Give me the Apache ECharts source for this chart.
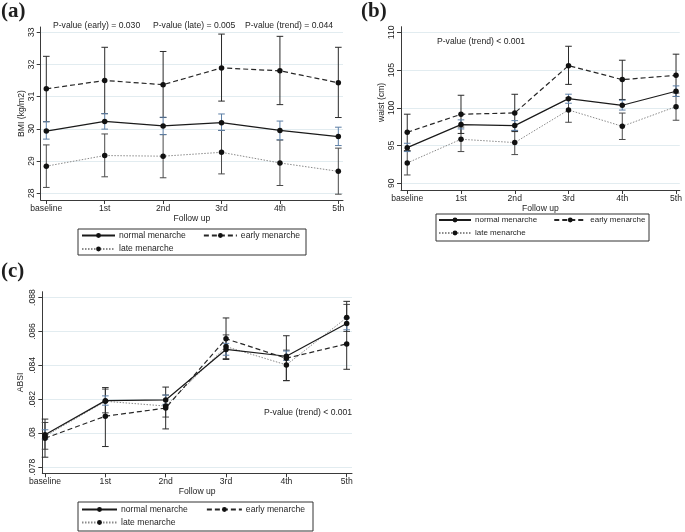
<!DOCTYPE html>
<html><head><meta charset="utf-8">
<script src="https://cdn.jsdelivr.net/npm/echarts@6/dist/echarts.min.js"></script>
<style>html,body{margin:0;padding:0;background:#fff}#c{width:685px;height:532px}</style>
</head><body><div id="c"></div>
<script>
// ---------- data ----------
const categories = ['baseline', '1st', '2nd', '3rd', '4th', '5th'];
const seriesNames = ['normal menarche', 'early menarche', 'late menarche'];

// Panel (a) BMI (kg/m2)
const bmiNormal   = [29.93, 30.23, 30.09, 30.19, 29.95, 29.76];
const bmiNormalLo = [29.68, 29.99, 29.82, 29.95, 29.66, 29.48];
const bmiNormalHi = [30.22, 30.47, 30.36, 30.46, 30.24, 30.05];
const bmiEarly    = [31.24, 31.50, 31.37, 31.89, 31.80, 31.43];
const bmiEarlyLo  = [30.22, 30.47, 30.35, 30.86, 30.75, 30.35];
const bmiEarlyHi  = [32.25, 32.53, 32.40, 32.94, 32.87, 32.53];
const bmiLate     = [28.84, 29.17, 29.15, 29.27, 28.94, 28.68];
const bmiLateLo   = [28.18, 28.51, 28.48, 28.60, 28.24, 27.97];
const bmiLateHi   = [29.50, 29.84, 29.82, 29.95, 29.65, 29.40];
const bmiTicks    = [28, 29, 30, 31, 32, 33];

// Panel (b) waist (cm)
const waistNormal   = [94.72, 97.77, 97.64, 101.21, 100.33, 102.19];
const waistNormalLo = [94.20, 97.20, 97.00, 100.60, 99.70, 101.50];
const waistNormalHi = [95.30, 98.40, 98.30, 101.80, 101.00, 102.90];
const waistEarly    = [96.75, 99.14, 99.32, 105.58, 103.73, 104.30];
const waistEarlyLo  = [94.30, 96.60, 96.85, 103.10, 101.10, 101.50];
const waistEarlyHi  = [99.15, 101.66, 101.79, 108.15, 106.30, 107.10];
const waistLate     = [92.69, 95.83, 95.39, 99.71, 97.55, 100.15];
const waistLateLo   = [91.10, 94.20, 93.80, 98.08, 95.80, 98.35];
const waistLateHi   = [94.30, 97.45, 97.00, 101.30, 99.30, 101.95];
const waistTicks    = [90, 95, 100, 105, 110];

// Panel (c) ABSI
const absiNormal   = [0.07990, 0.08192, 0.08196, 0.08494, 0.08454, 0.08647];
const absiNormalLo = [0.07965, 0.08165, 0.08170, 0.08460, 0.08430, 0.08610];
const absiNormalHi = [0.08020, 0.08220, 0.08225, 0.08530, 0.08485, 0.08680];
const absiEarly    = [0.07970, 0.08100, 0.08148, 0.08557, 0.08442, 0.08527];
const absiEarlyLo  = [0.07858, 0.07921, 0.08025, 0.08435, 0.08310, 0.08377];
const absiEarlyHi  = [0.08083, 0.08269, 0.08272, 0.08680, 0.08575, 0.08778];
const absiLate     = [0.07982, 0.08188, 0.08160, 0.08511, 0.08403, 0.08682];
const absiLateLo   = [0.07905, 0.08120, 0.08095, 0.08440, 0.08310, 0.08600];
const absiLateHi   = [0.08063, 0.08260, 0.08225, 0.08580, 0.08490, 0.08760];
const absiTicks    = [0.078, 0.080, 0.082, 0.084, 0.086, 0.088];

// ---------- styles ----------
const FONT = '"Liberation Sans", Arial, sans-serif';
const FS = 8.6;
const TXT = '#1e1e1e';
const AX = '#3a3a3a';
const GRID = '#e2ecf0';
const catIdx = categories.map((c, i) => i);

function xAxis(gi, min, max, gap) {
  return {
    type: 'value', gridIndex: gi, min: min, max: max,
    name: 'Follow up', nameLocation: 'middle', nameGap: gap,
    nameTextStyle: { fontFamily: FONT, fontSize: FS, color: TXT },
    axisLine: { show: true, onZero: false, lineStyle: { color: AX, width: 1 } },
    axisTick: { show: true, customValues: catIdx, length: 4, lineStyle: { color: AX } },
    axisLabel: { customValues: catIdx, formatter: v => categories[Math.round(v)], margin: 4,
                 fontFamily: FONT, fontSize: FS, color: TXT },
    splitLine: { show: false }
  };
}
function yAxis(gi, min, max, ticks, name, gap, fmt, namePad) {
  return {
    type: 'value', gridIndex: gi, min: min, max: max,
    name: name, nameLocation: 'middle', nameGap: gap,
    nameTextStyle: { fontFamily: FONT, fontSize: FS, color: TXT, padding: namePad || 0 },
    axisLine: { show: true, onZero: false, lineStyle: { color: AX, width: 1 } },
    axisTick: { show: true, customValues: ticks, length: 4, lineStyle: { color: AX } },
    axisLabel: { customValues: ticks, rotate: 90, margin: 5, formatter: fmt,
                 fontFamily: FONT, fontSize: FS, color: TXT },
    splitLine: { show: true, lineStyle: { color: GRID, width: 1 } }
  };
}
const styleOf = {
  'normal menarche': { color: '#1a1a1a', width: 1.2, type: 'solid', bar: '#5d7fa6' },
  'early menarche':  { color: '#262626', width: 1.2, type: [5, 3], bar: '#2a2a2a' },
  'late menarche':   { color: '#8a8a8a', width: 1, type: [1.5, 1.5], bar: '#4a4a4a' }
};
function lineSeries(gi, name, vals) {
  const s = styleOf[name];
  return {
    type: 'line', name: name, xAxisIndex: gi, yAxisIndex: gi,
    data: vals.map((v, i) => [i, v]),
    symbol: 'circle', symbolSize: 5.5, z: 5,
    itemStyle: { color: '#111' },
    lineStyle: { color: s.color, width: s.width, type: s.type },
    emphasis: { disabled: true }, animation: false
  };
}
function errSeries(gi, name, lo, hi, z) {
  const col = styleOf[name].bar;
  return {
    type: 'custom', xAxisIndex: gi, yAxisIndex: gi, z: z, silent: true, animation: false,
    data: lo.map((l, i) => [i, l, hi[i]]),
    encode: { x: 0, y: [1, 2] },
    renderItem: function (params, api) {
      const x = api.value(0);
      const a = api.coord([x, api.value(1)]);
      const b = api.coord([x, api.value(2)]);
      const w = 3.3;
      const st = { stroke: col, lineWidth: 1 };
      return { type: 'group', children: [
        { type: 'line', shape: { x1: a[0], y1: a[1], x2: b[0], y2: b[1] }, style: st },
        { type: 'line', shape: { x1: a[0] - w, y1: a[1], x2: a[0] + w, y2: a[1] }, style: st },
        { type: 'line', shape: { x1: b[0] - w, y1: b[1], x2: b[0] + w, y2: b[1] }, style: st }
      ]};
    }
  };
}
function legend(left, top, names, gap, iw, fs) {
  return {
    left: left, top: top, padding: 0, data: names, itemGap: gap, itemWidth: iw, itemHeight: 6,
    selectedMode: false, orient: 'horizontal',
    textStyle: { fontFamily: FONT, fontSize: fs || FS, color: TXT, padding: [0, 0, 0, -1] }
  };
}
function txt(x, y, s, font, valign) {
  return { type: 'text', x: x, y: y, silent: true,
           style: { text: s, font: font || (FS + 'px ' + FONT), fill: TXT,
                    verticalAlign: valign || 'middle', textVerticalAlign: valign || 'middle' } };
}
function box(x, y, w, h) {
  return { type: 'rect', shape: { x: x, y: y, width: w, height: h }, silent: true,
           style: { fill: 'none', stroke: '#333', lineWidth: 1 } };
}
const absiFmt = v => String(+(+v).toFixed(3)).replace(/^0/, '');

const panels = [
  { n: bmiNormal, nl: bmiNormalLo, nh: bmiNormalHi, e: bmiEarly, el: bmiEarlyLo, eh: bmiEarlyHi,
    l: bmiLate, ll: bmiLateLo, lh: bmiLateHi },
  { n: waistNormal, nl: waistNormalLo, nh: waistNormalHi, e: waistEarly, el: waistEarlyLo, eh: waistEarlyHi,
    l: waistLate, ll: waistLateLo, lh: waistLateHi },
  { n: absiNormal, nl: absiNormalLo, nh: absiNormalHi, e: absiEarly, el: absiEarlyLo, eh: absiEarlyHi,
    l: absiLate, ll: absiLateLo, lh: absiLateHi }
];
const series = [];
panels.forEach((p, gi) => {
  series.push(errSeries(gi, 'late menarche', p.ll, p.lh, 1));
  series.push(errSeries(gi, 'early menarche', p.el, p.eh, 2));
  series.push(errSeries(gi, 'normal menarche', p.nl, p.nh, 3));
  series.push(lineSeries(gi, 'late menarche', p.l));
  series.push(lineSeries(gi, 'early menarche', p.e));
  series.push(lineSeries(gi, 'normal menarche', p.n));
});

const option = {
  backgroundColor: '#fff',
  animation: false,
  grid: [
    { left: 40.7, top: 27, width: 302.3, height: 173 },
    { left: 401, top: 26.7, width: 282, height: 163.3 },
    { left: 42.3, top: 291.7, width: 309.7, height: 181.6 }
  ],
  xAxis: [
    xAxis(0, -0.096, 5.08, 12),
    xAxis(1, -0.116, 5.07, 11.5),
    xAxis(2, -0.045, 5.088, 12.5)
  ],
  yAxis: [
    yAxis(0, 27.79, 33.16, bmiTicks, 'BMI (kg/m2)', 14, v => String(Math.round(v))),
    yAxis(1, 89.11, 110.74, waistTicks, 'waist (cm)', 13, v => String(Math.round(v)), [0, 0, 0, 12]),
    yAxis(2, 0.07763, 0.08835, absiTicks, 'ABSI', 17, absiFmt)
  ],
  legend: [
    legend(81, 231, ['normal menarche', 'early menarche'], 17, 33),
    legend(81, 244.5, ['late menarche'], 17, 33),
    legend(438, 216, ['normal menarche', 'early menarche'], 16, 32, 8),
    legend(438, 229, ['late menarche'], 16, 32, 8),
    legend(81, 505, ['normal menarche', 'early menarche'], 18, 35),
    legend(81, 518, ['late menarche'], 18, 35)
  ],
  graphic: [
    box(78, 229, 228, 26),
    box(436, 214, 213, 27),
    box(78, 502, 235, 29),
    txt(1, 1, '(a)', 'bold 21px "Liberation Serif", serif', 'top'),
    txt(361, 1, '(b)', 'bold 21px "Liberation Serif", serif', 'top'),
    txt(1, 261, '(c)', 'bold 21px "Liberation Serif", serif', 'top'),
    txt(53, 26, 'P-value (early) = 0.030'),
    txt(153, 26, 'P-value (late) = 0.005'),
    txt(245, 26, 'P-value (trend) = 0.044'),
    txt(437, 42, 'P-value (trend) < 0.001'),
    txt(264, 413, 'P-value (trend) < 0.001')
  ],
  series: series
};
const chart = echarts.init(document.getElementById('c'), null, { renderer: 'canvas' });
chart.setOption(option);
</script>
</body></html>
